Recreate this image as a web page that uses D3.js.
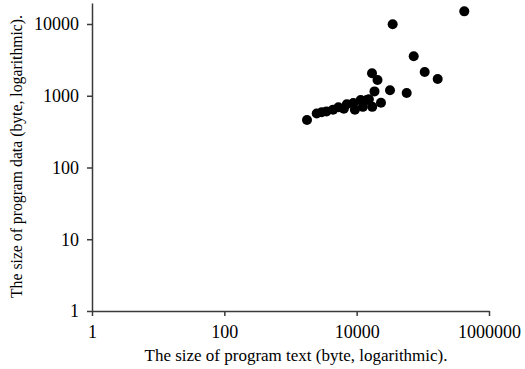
<!DOCTYPE html>
<html><head><meta charset="utf-8">
<script src="https://cdn.jsdelivr.net/npm/d3@7"></script>
<style>body{margin:0;background:#fff}svg{display:block}</style>
</head><body>
<script>
// program text size (bytes), program data size (bytes)
const textSize = [1775, 2490, 2960, 3500, 4400, 5300, 7100, 9400, 8900, 11500, 15300, 17200, 23300, 18600, 17050, 20650, 31900, 57000, 72800, 106700, 167600, 35000, 423000, 14200, 12400, 6400];
const dataSize = [460, 565, 590, 605, 640, 690, 760, 640, 790, 870, 895, 700, 800, 1150, 2055, 1660, 1190, 1090, 3550, 2140, 1710, 9900, 15000, 870, 700, 660];
const xTicks = [1, 100, 10000, 1000000];
const yTicks = [1, 10, 100, 1000, 10000];
const xLabel = "The size of program text (byte, logarithmic).";
const yLabel = "The size of program data (byte, logarithmic).";

const W = 525, H = 369;
const svg = d3.select("body").append("svg").attr("width", W).attr("height", H);
const mLeft = 92, mRight = 489, mTop = 3, mBottom = 311;
const x = d3.scaleLog().domain([1, 1e6]).range([mLeft, mRight]);
const yTop = Math.pow(10, 4 + (24 - 3) / 71.75);
const y = d3.scaleLog().domain([1, yTop]).range([mBottom, mTop]);

const axisColor = "#3a3a3a";
const font = "'Liberation Serif', 'Times New Roman', serif";

const gx = svg.append("g").attr("transform", `translate(0,${mBottom})`)
  .call(d3.axisBottom(x).tickValues(xTicks).tickFormat(d3.format("d")).tickSizeOuter(0).tickSizeInner(5).tickPadding(9));
const gy = svg.append("g").attr("transform", `translate(${mLeft},0)`)
  .call(d3.axisLeft(y).tickValues(yTicks).tickFormat(d3.format("d")).tickSizeOuter(0).tickSizeInner(5).tickPadding(8));
[gx, gy].forEach(g => {
  g.select(".domain").attr("stroke", axisColor).attr("stroke-width", 1.5);
  g.selectAll(".tick line").attr("stroke", axisColor).attr("stroke-width", 1.5);
  g.selectAll(".tick text").attr("fill", "#000").style("font-family", font).style("font-size", "18px");
});

svg.append("g").selectAll("circle").data(textSize).join("circle")
  .attr("cx", d => x(d))
  .attr("cy", (d, i) => y(dataSize[i]))
  .attr("r", 5)
  .attr("fill", "#000");

svg.append("text").attr("x", 296).attr("y", 361)
  .attr("text-anchor", "middle").style("font-family", font).style("font-size", "17px")
  .attr("textLength", 303).attr("lengthAdjust", "spacingAndGlyphs")
  .text(xLabel);
svg.append("text").attr("transform", `translate(22,156.5) rotate(-90)`)
  .attr("text-anchor", "middle").style("font-family", font).style("font-size", "16px")
  .attr("textLength", 283).attr("lengthAdjust", "spacingAndGlyphs")
  .text(yLabel);
</script>
</body></html>
